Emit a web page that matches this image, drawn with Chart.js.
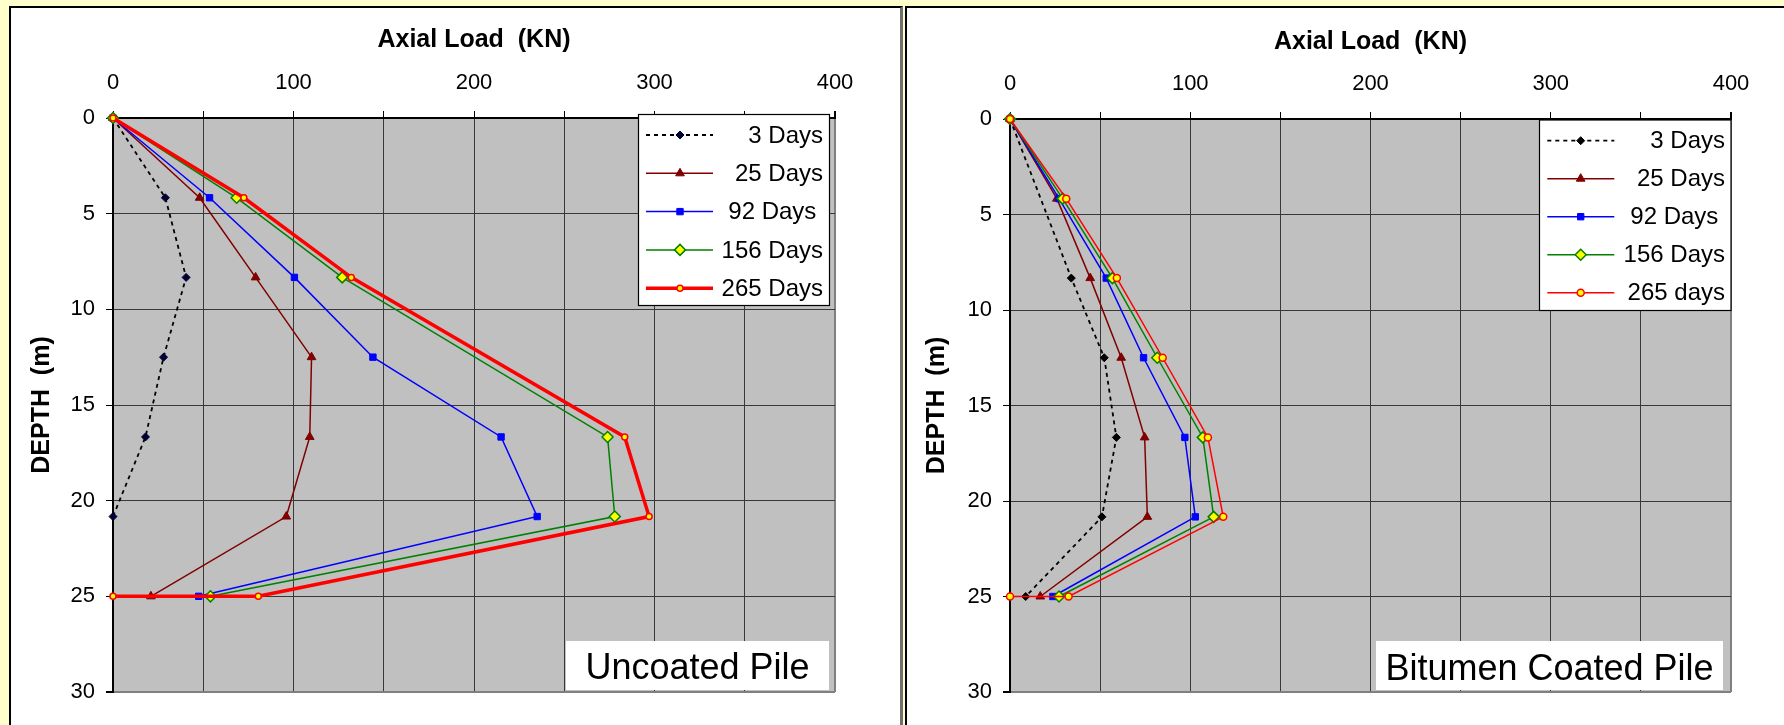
<!DOCTYPE html>
<html>
<head>
<meta charset="utf-8">
<title>Axial load vs depth</title>
<script src="https://cdn.jsdelivr.net/npm/chart.js@4.4.1/dist/chart.umd.min.js"></script>
<style>
  html, body { margin: 0; padding: 0; }
  body { width: 1784px; height: 725px; background: #ffffcc; position: relative; overflow: hidden; }
  .box { position: absolute; top: 6px; background: #fff; box-sizing: border-box; }
  #boxA { left: 9px; width: 894px; height: 740px; border-top: 2px solid #000; border-left: 2px solid #000; border-right: 3px solid #707070; }
  #boxB { left: 905px; width: 900px; height: 740px; border-top: 2px solid #000; border-left: 2px solid #000; }
  canvas { position: absolute; top: 0; }
  #chartA { left: 0; }
  #chartB { left: 903px; }
</style>
</head>
<body>
<div class="box" id="boxA"></div>
<div class="box" id="boxB"></div>
<canvas id="chartA" width="903" height="725"></canvas>
<canvas id="chartB" width="881" height="725"></canvas>
<script>
// depth of each gauge (m); the last entry is the toe point going back to zero load
const depths = [0, 4.17, 8.33, 12.5, 16.67, 20.83, 25, 25];

const xTicks = [0, 100, 200, 300, 400];
const yTicks = [0, 5, 10, 15, 20, 25, 30];

const namesA = ['3 Days', '25 Days', '92 Days ', '156 Days', '265 Days'];
const namesB = ['3 Days', '25 Days', '92 Days ', '156 Days', '265 days'];

// Uncoated pile - axial load (KN)
const uncoated3   = [0, 29,   40.5,  28,   18,    0,     null, null];
const uncoated25  = [0, 48,   79,    110,  109,   96,    21,   null];
const uncoated92  = [0, 53.5, 100.5, 144,  215,   235,   47.5, null];
const uncoated156 = [0, 68.5, 127,   null, 274,   278,   54,   null];
const uncoated265 = [0, 72.5, 132,   null, 283.5, 297,   80.5, 0];

// Bitumen coated pile - axial load (KN)
const coated3   = [0, null, 34,   52.3, 59,    51,    8.7,  null];
const coated25  = [0, 26,   44.5, 61.7, 74.7,  76.2,  16.8, null];
const coated92  = [0, 27.2, 53.4, 74.1, 97,    102.8, 23.8, null];
const coated156 = [0, 29.2, 56.8, 81.7, 107,   113,   27.2, null];
const coated265 = [0, 31.2, 59.3, 84.7, 109.8, 118.3, 32.5, 0];

const looks = [
  { line: '#000000', dash: [4, 4], shape: 'rectRot', radius: 4, fill: '#000033', edge: '#000033', edgeW: 1 },
  { line: '#800000', dash: [], shape: 'triangle', radius: 5, fill: '#800000', edge: '#800000', edgeW: 1 },
  { line: '#0000ff', dash: [], shape: 'rect', radius: 4.5, fill: '#0000ff', edge: '#0000ff', edgeW: 1 },
  { line: '#008000', dash: [], shape: 'rectRot', radius: 5.5, fill: '#ffff00', edge: '#008000', edgeW: 1.5 },
  { line: '#ff0000', dash: [], shape: 'circle', radius: 3, fill: '#ffff00', edge: '#ff0000', edgeW: 1.5 }
];

Chart.defaults.font.family = '"Liberation Sans", Arial, sans-serif';
Chart.defaults.color = '#000';

function makeDatasets(series, names, lastWidth, lastRadius, firstMark) {
  return series.map((vals, i) => {
    const lk = looks[i];
    const pts = [];
    vals.forEach((v, k) => {
      if (v !== null) pts.push({ x: v, y: depths[k] });
    });
    const fill = i === 0 ? firstMark : lk.fill;
    return {
      label: names[i],
      data: pts,
      showLine: true,
      tension: 0,
      borderColor: lk.line,
      borderWidth: i === 4 ? lastWidth : (i === 0 ? 1.8 : 1.5),
      borderDash: lk.dash,
      pointStyle: lk.shape,
      pointRadius: i === 4 ? lastRadius : lk.radius,
      pointHoverRadius: i === 4 ? lastRadius : lk.radius,
      pointBackgroundColor: fill,
      pointBorderColor: i === 0 ? firstMark : lk.edge,
      pointBorderWidth: lk.edgeW,
      order: 4 - i,
      clip: false
    };
  });
}

const plotBack = {
  id: 'plotBack',
  beforeDraw(chart) {
    const a = chart.chartArea;
    chart.ctx.save();
    chart.ctx.fillStyle = '#c0c0c0';
    chart.ctx.fillRect(a.left, a.top, a.right - a.left, a.bottom - a.top);
    chart.ctx.restore();
  }
};

function markAt(ctx, ds, x, y) {
  ctx.fillStyle = ds.pointBackgroundColor;
  ctx.strokeStyle = ds.pointBorderColor;
  ctx.lineWidth = ds.pointBorderWidth;
  const o = { pointStyle: ds.pointStyle, radius: ds.pointRadius, rotation: 0, borderWidth: ds.pointBorderWidth };
  if (Chart.helpers && Chart.helpers.drawPoint) {
    Chart.helpers.drawPoint(ctx, o, x, y);
  } else {
    ctx.beginPath();
    ctx.arc(x, y, ds.pointRadius, 0, Math.PI * 2);
    ctx.fill();
    ctx.stroke();
  }
}

const pileLegend = {
  id: 'pileLegend',
  afterDatasetsDraw(chart, args, opts) {
    const ctx = chart.ctx;
    const b = opts.box;
    ctx.save();
    ctx.fillStyle = '#fff';
    ctx.fillRect(b.x, b.y, b.w, b.h);
    ctx.strokeStyle = '#000';
    ctx.lineWidth = 1.2;
    ctx.strokeRect(b.x, b.y, b.w, b.h);
    ctx.font = '24px "Liberation Sans", Arial, sans-serif';
    ctx.textAlign = 'right';
    ctx.textBaseline = 'middle';
    chart.data.datasets.forEach((ds, i) => {
      const y = b.y + opts.firstRow + i * opts.rowGap;
      ctx.save();
      ctx.strokeStyle = ds.borderColor;
      ctx.lineWidth = ds.borderWidth;
      ctx.setLineDash(ds.borderDash);
      ctx.beginPath();
      ctx.moveTo(opts.lineX0, y);
      ctx.lineTo(opts.lineX1, y);
      ctx.stroke();
      ctx.setLineDash([]);
      markAt(ctx, ds, opts.markX, y);
      ctx.restore();
      ctx.fillStyle = '#000';
      ctx.fillText(ds.label, opts.textRight, y + 1);
    });
    ctx.restore();
  }
};

const pileNote = {
  id: 'pileNote',
  afterDatasetsDraw(chart, args, opts) {
    const ctx = chart.ctx;
    ctx.save();
    ctx.fillStyle = '#fff';
    ctx.fillRect(opts.x, opts.y, opts.w, opts.h);
    ctx.fillStyle = '#000';
    ctx.font = '36px "Liberation Sans", Arial, sans-serif';
    ctx.textAlign = 'center';
    ctx.textBaseline = 'alphabetic';
    ctx.fillText(opts.text, opts.x + opts.w / 2, opts.baseline);
    ctx.restore();
  }
};

function gridColor(c, edgeValue) {
  if (!c.tick) return '#383838';
  if (c.tick.value === edgeValue) return '#808080';
  if (c.tick.value === 0) return '#000';
  return '#383838';
}

function makeOptions(s) {
  return {
    responsive: false,
    animation: false,
    events: [],
    layout: { padding: { left: 0, top: 0, right: s.padRight, bottom: s.padBottom } },
    plugins: {
      legend: { display: false },
      tooltip: { enabled: false },
      pileLegend: s.legend,
      pileNote: s.note
    },
    scales: {
      x: {
        type: 'linear',
        position: 'top',
        min: xTicks[0],
        max: xTicks[xTicks.length - 1],
        afterFit: sc => { sc.height = s.top; },
        ticks: {
          stepSize: 50,
          padding: 15,
          font: { size: 22 },
          callback: v => xTicks.includes(v) ? v : ''
        },
        grid: {
          color: c => gridColor(c, 400),
          lineWidth: c => (c.tick && c.tick.value === 400) ? 2 : 1,
          tickLength: 7,
          tickColor: '#000'
        },
        border: { color: '#000', width: 2 },
        title: {
          display: true,
          text: 'Axial Load  (KN)',
          font: { size: 25, weight: 'bold' },
          padding: { top: s.xTitlePad, bottom: 0 }
        }
      },
      y: {
        type: 'linear',
        reverse: true,
        min: yTicks[0],
        max: yTicks[yTicks.length - 1],
        afterFit: sc => { sc.width = s.left; },
        ticks: {
          stepSize: 5,
          padding: 11,
          font: { size: 22 },
          callback: v => yTicks.includes(v) ? v : ''
        },
        grid: {
          color: c => gridColor(c, 30),
          lineWidth: c => (c.tick && c.tick.value === 30) ? 2 : 1,
          tickLength: 7,
          tickColor: '#000'
        },
        border: { color: '#000', width: 2 },
        title: {
          display: true,
          text: 'DEPTH  (m)',
          font: { size: 25, weight: 'bold' },
          padding: { top: s.yTitlePad, bottom: 0 }
        }
      }
    }
  };
}

new Chart(document.getElementById('chartA'), {
  type: 'scatter',
  data: { datasets: makeDatasets([uncoated3, uncoated25, uncoated92, uncoated156, uncoated265], namesA, 3.5, 3, '#000033') },
  options: makeOptions({
    left: 113, top: 118, padRight: 68, padBottom: 33, xTitlePad: 25.6, yTitlePad: 27,
    legend: { box: { x: 638.5, y: 114.5, w: 191, h: 191 }, firstRow: 20.5, rowGap: 38.3, lineX0: 646, lineX1: 713, markX: 680, textRight: 823 },
    note: { x: 566, y: 641, w: 263, h: 49, baseline: 679, text: 'Uncoated Pile' }
  }),
  plugins: [plotBack, pileLegend, pileNote]
});

new Chart(document.getElementById('chartB'), {
  type: 'scatter',
  data: { datasets: makeDatasets([coated3, coated25, coated92, coated156, coated265], namesB, 1.5, 3.5, '#000000') },
  options: makeOptions({
    left: 107, top: 119, padRight: 53, padBottom: 33, xTitlePad: 27.5, yTitlePad: 19.5,
    legend: { box: { x: 636.5, y: 120, w: 191.5, h: 190.5 }, firstRow: 20.7, rowGap: 38, lineX0: 644.3, lineX1: 711.3, markX: 677.7, textRight: 822 },
    note: { x: 473, y: 641, w: 347, h: 49, baseline: 680, text: 'Bitumen Coated Pile' }
  }),
  plugins: [plotBack, pileLegend, pileNote]
});
</script>
</body>
</html>
